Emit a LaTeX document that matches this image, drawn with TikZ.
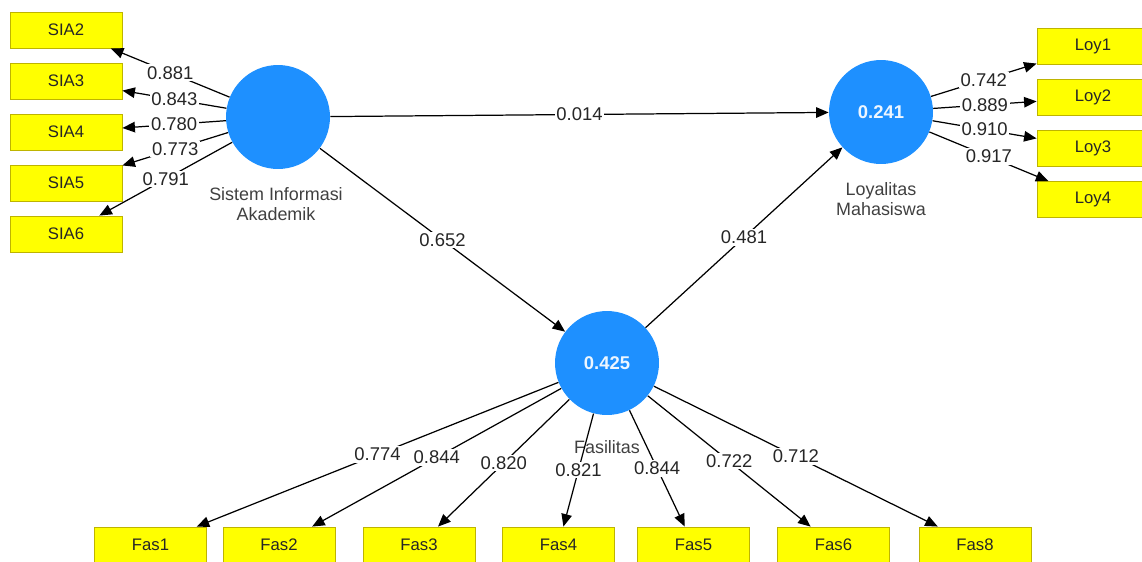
\documentclass[tikz,border=0pt]{standalone}
\usepackage{fontspec}
\setmainfont{Liberation Sans}
\usetikzlibrary{arrows.meta}
\definecolor{lvblue}{RGB}{30,144,255}
\definecolor{mvyellow}{RGB}{255,255,0}
\definecolor{mvborder}{RGB}{190,180,0}
\tikzset{
  latent/.style={circle, fill=lvblue, draw=none, minimum size=2.08cm, inner sep=0pt,
    text=white!92!lvblue, font=\fontsize{10.5}{12}\selectfont\bfseries},
  manifest/.style={rectangle, fill=mvyellow, draw=mvborder, line width=0.5pt,
    minimum width=2.24cm, minimum height=0.72cm, inner sep=0pt,
    text=black!85, font=\fontsize{9.5}{11}\selectfont},
  lvname/.style={align=center, text=black!75, font=\fontsize{10.2}{11.6}\selectfont},
  loading/.style={line width=0.7pt, -{Triangle[length=2.5mm,width=2.1mm]}},
  coef/.style={midway, fill=white, inner sep=1pt, text=black!85,
    font=\fontsize{10.5}{12}\selectfont}
}
\begin{document}
\begin{tikzpicture}[x=0.02cm, y=-0.02cm]
                \useasboundingbox (0,0) rectangle (1142,561);
                
                % Latent variables
                \node [latent] (sia) at (278,117) {};
                \node [latent] (loy) at (881,112) {0.241};
                \node [latent] (fas) at (607,363) {0.425};
                \node [lvname] (sianame) at (276,204) {Sistem Informasi\\Akademik};
                \node [lvname] (loyname) at (881,199) {Loyalitas\\Mahasiswa};
                \node [lvname] (fasname) at (607,447) {Fasilitas};
                
                % Indicators of Sistem Informasi Akademik
                \node [manifest] (sia2) at (66,30) {SIA2};
                \node [manifest] (sia3) at (66,81) {SIA3};
                \node [manifest] (sia4) at (66,132) {SIA4};
                \node [manifest] (sia5) at (66,183) {SIA5};
                \node [manifest] (sia6) at (66,234) {SIA6};
                
                % Indicators of Loyalitas Mahasiswa
                \node [manifest] (loy1) at (1093,46) {Loy1};
                \node [manifest] (loy2) at (1093,97.5) {Loy2};
                \node [manifest] (loy3) at (1093,148) {Loy3};
                \node [manifest] (loy4) at (1093,199.5) {Loy4};
                
                % Indicators of Fasilitas
                \node [manifest] (fas1) at (150.5,545) {Fas1};
                \node [manifest] (fas2) at (279,545) {Fas2};
                \node [manifest] (fas3) at (419,545) {Fas3};
                \node [manifest] (fas4) at (558.5,545) {Fas4};
                \node [manifest] (fas5) at (693.5,545) {Fas5};
                \node [manifest] (fas6) at (833.5,545) {Fas6};
                \node [manifest] (fas8) at (975,545) {Fas8};
                
                % Drawing inner model
                \draw [loading] (sia) -- node [coef] {0.014} (loy);
                \draw [loading] (sia) -- node [coef] {0.652} (fas);
                \draw [loading] (fas) -- node [coef] {0.481} (loy);
                
                % Drawing outer loadings SIA
                \draw [loading] (sia) -- node [coef] {0.881} (sia2);
                \draw [loading] (sia) -- node [coef] {0.843} (sia3);
                \draw [loading] (sia) -- node [coef] {0.780} (sia4);
                \draw [loading] (sia) -- node [coef] {0.773} (sia5);
                \draw [loading] (sia) -- node [coef] {0.791} (sia6);
                
                % Drawing outer loadings Loy
                \draw [loading] (loy) -- node [coef] {0.742} (loy1);
                \draw [loading] (loy) -- node [coef] {0.889} (loy2);
                \draw [loading] (loy) -- node [coef] {0.910} (loy3);
                \draw [loading] (loy) -- node [coef] {0.917} (loy4);
                
                % Drawing outer loadings Fas
                \draw [loading] (fas) -- node [coef] {0.774} (fas1);
                \draw [loading] (fas) -- node [coef] {0.844} (fas2);
                \draw [loading] (fas) -- node [coef] {0.820} (fas3);
                \draw [loading] (fas) -- node [coef] {0.821} (fas4);
                \draw [loading] (fas) -- node [coef] {0.844} (fas5);
                \draw [loading] (fas) -- node [coef] {0.722} (fas6);
                \draw [loading] (fas) -- node [coef] {0.712} (fas8);
\end{tikzpicture}
\end{document}
